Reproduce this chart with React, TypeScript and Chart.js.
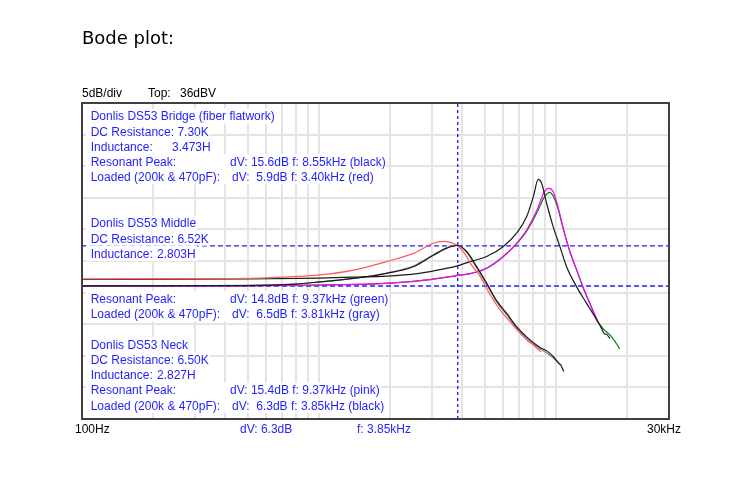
import { useEffect, useRef } from "react"
import { Chart, registerables } from "chart.js"

Chart.register(...registerables)

// frequency (Hz) / level (dBV) traces
const bridgeLoadedFreq = [100, 300, 600, 1010, 1400, 1930, 2500, 3040, 3360, 3680, 3930, 4200, 4340, 4780, 5270, 5800, 6300, 6850, 7540, 8100, 8650]
const bridgeLoadedDb = [8.15, 8.2, 8.35, 8.8, 9.55, 10.9, 12.2, 13.8, 14.1, 13.8, 13.1, 11.7, 10.7, 8.6, 5.7, 3.3, 1.7, 0.1, -1.5, -2.4, -3.4]

const bridgeFreq = [100, 500, 1010, 1400, 1930, 2600, 3200, 3800, 4340, 5100, 6000, 6820, 7520, 8030, 8420, 8700, 9140, 9740, 10390, 11090, 12230, 13470, 14850, 15600, 16000, 16360, 16900]
const bridgeDb = [8.1, 8.15, 8.3, 8.45, 8.6, 9.0, 9.6, 10.2, 10.9, 11.7, 13.3, 15.4, 18.0, 21.2, 23.9, 23.3, 20.1, 16.4, 13.3, 10.1, 6.9, 4.3, 1.7, 0.3, -0.5, -0.6, -1.3]

const neckLoadedFreq = [100, 500, 800, 1010, 1400, 1930, 2500, 3040, 3450, 3850, 4200, 4630, 5100, 5600, 6200, 6820, 7520, 8500, 9200, 9740, 10300, 10500, 10650, 10800]
const neckLoadedDb = [7.05, 7.1, 7.35, 7.7, 8.25, 9.05, 10.1, 11.9, 13.0, 13.45, 12.5, 10.1, 7.5, 4.8, 2.7, 0.6, -1.0, -2.6, -3.3, -4.1, -5.2, -5.5, -6.0, -6.5]

const middleLoadedFreq = [100, 500, 800, 1010, 1400, 1930, 2500, 3040, 3450, 3810, 4200, 4630, 5100, 5600, 6200, 6820, 7520, 8500, 9500, 10500]
const middleLoadedDb = [7.05, 7.1, 7.35, 7.7, 8.25, 9.1, 10.2, 12.0, 13.1, 13.55, 12.4, 9.9, 7.3, 4.6, 2.5, 0.4, -1.2, -2.8, -4.0, -5.5]

const neckFreq = [100, 500, 1000, 2000, 3000, 3800, 4340, 5100, 6000, 6820, 7520, 8330, 8870, 9300, 9740, 10200, 10700, 11400, 12230, 13000, 13900, 14850, 15100]
const neckDb = [7.05, 7.05, 7.2, 7.5, 8.1, 8.7, 9.0, 9.85, 11.7, 13.8, 15.9, 19.1, 21.7, 22.5, 22.0, 19.6, 16.4, 12.75, 9.6, 6.9, 4.3, 1.9, 1.3]

const middleFreq = [100, 1000, 2000, 3000, 3800, 4340, 5100, 6000, 6820, 7520, 8330, 8870, 9370, 9740, 10200, 10700, 11400, 12230, 13000, 13900, 14850, 15800, 16900, 17800, 18600]
const middleDb = [7.05, 7.2, 7.5, 8.1, 8.7, 9.0, 9.85, 11.7, 13.7, 15.7, 18.7, 20.9, 21.85, 21.3, 19.3, 16.3, 12.7, 9.55, 6.9, 4.3, 1.7, 0.3, -0.7, -1.8, -2.9]

// cursor readout
const cursorFreq = 3850
const cursorLowDb = 7.05
const cursorHighDb = 13.4

const xGridTicks = [100, 200, 300, 400, 500, 600, 700, 800, 900, 1000, 2000, 3000, 4000, 5000, 6000, 7000, 8000, 9000, 10000, 20000, 30000]
const yGridTicks = [-14, -9, -4, 1, 6, 11, 16, 21, 26, 31, 36]

const bridgeText = [
  ["Donlis DS53 Bridge (fiber flatwork)"],
  ["DC Resistance: 7.30K"],
  ["Inductance:", "3.473H"],
  ["Resonant Peak:", "dV: 15.6dB f: 8.55kHz (black)"],
  ["Loaded (200k & 470pF):", "dV:  5.9dB f: 3.40kHz (red)"],
]
const middleText = [
  ["Donlis DS53 Middle"],
  ["DC Resistance: 6.52K"],
  ["Inductance:", "2.803H"],
]
const middlePeakText = [
  ["Resonant Peak:", "dV: 14.8dB f: 9.37kHz (green)"],
  ["Loaded (200k & 470pF):", "dV:  6.5dB f: 3.81kHz (gray)"],
]
const neckText = [
  ["Donlis DS53 Neck"],
  ["DC Resistance: 6.50K"],
  ["Inductance:", "2.827H"],
  ["Resonant Peak:", "dV: 15.4dB f: 9.37kHz (pink)"],
  ["Loaded (200k & 470pF):", "dV:  6.3dB f: 3.85kHz (black)"],
]

const BLUE = "#1f1fff"
const FONT = '12px "Liberation Sans"'

const pts = (fs: number[], ds: number[]) => fs.map((x, i) => ({ x, y: ds[i] }))

function trace(label: string, fs: number[], ds: number[], color: string) {
  return {
    label,
    data: pts(fs, ds),
    borderColor: color,
    borderWidth: 1.2,
    pointRadius: 0,
    cubicInterpolationMode: "monotone",
    fill: false,
  }
}

function cursor(data: { x: number; y: number }[], dash: number[]) {
  return {
    label: "cursor",
    data,
    borderColor: BLUE,
    borderWidth: 1.4,
    borderDash: dash,
    pointRadius: 0,
    tension: 0,
    fill: false,
  }
}

const overlay = {
  id: "overlay",
  afterDatasetsDraw(chart: any) {
    const { ctx, chartArea: a } = chart
    ctx.save()
    ctx.strokeStyle = "#404040"
    ctx.lineWidth = 2
    ctx.strokeRect(a.left, a.top, a.right - a.left, a.bottom - a.top)

    ctx.fillStyle = "#000"
    ctx.font = '18px "DejaVu Sans"'
    ctx.textBaseline = "alphabetic"
    ctx.fillText("Bode plot:", 82, 44)

    ctx.font = FONT
    ctx.textBaseline = "middle"
    ctx.fillText("5dB/div", 82, 94)
    ctx.fillText("Top:", 148, 94)
    ctx.fillText("36dBV", 180, 94)
    ctx.fillText("100Hz", 75, 430)
    ctx.fillText("30kHz", 647, 430)
    ctx.fillStyle = BLUE
    ctx.fillText("dV: 6.3dB", 240, 430)
    ctx.fillText("f: 3.85kHz", 357, 430)

    // text rows sit on opaque white cells, like the original readout
    const block = (rows: string[][], y0: number, indX: number) => {
      rows.forEach((r, i) => {
        const y = y0 + i * 15.2
        const xs = [90.7]
        if (r.length > 1) xs.push(r[0].startsWith("Inductance") ? indX : r[0].startsWith("Loaded") ? 232 : 230)
        let end = 0
        r.forEach((t, j) => (end = Math.max(end, xs[j] + ctx.measureText(t).width)))
        ctx.fillStyle = "#fff"
        ctx.fillRect(86, y - 8.5, end - 86 + 1, 15)
        ctx.fillStyle = BLUE
        r.forEach((t, j) => ctx.fillText(t, xs[j], y))
      })
    }
    block(bridgeText, 117, 172)
    block(middleText, 224, 157)
    block(middlePeakText, 299.5, 157)
    block(neckText, 345.5, 157)
    ctx.restore()
  },
}

export default function App() {
  const canvasRef = useRef<HTMLCanvasElement>(null)

  useEffect(() => {
    document.body.style.margin = "0"
    const canvas = canvasRef.current
    if (!canvas) return

    const chart = new Chart(canvas, {
      type: "line",
      data: {
        datasets: [
          trace("Neck loaded", neckLoadedFreq, neckLoadedDb, "#1a1a1a"),
          trace("Bridge loaded", bridgeLoadedFreq, bridgeLoadedDb, "#ff5a5a"),
          trace("Bridge", bridgeFreq, bridgeDb, "#1a1a1a"),
          trace("Neck", neckFreq, neckDb, "#ff00ff"),
          trace("Middle", middleFreq, middleDb, "#008000"),
          trace("Middle loaded", middleLoadedFreq, middleLoadedDb, "#808080"),
          cursor([{ x: cursorFreq, y: -14 }, { x: cursorFreq, y: 36 }], [3, 3]),
          cursor([{ x: 100, y: cursorHighDb }, { x: 30000, y: cursorHighDb }], [5, 3]),
          cursor([{ x: 100, y: cursorLowDb }, { x: 30000, y: cursorLowDb }], [5, 3]),
        ] as any,
      },
      options: {
        responsive: false,
        animation: false,
        layout: { padding: { left: 82, top: 103, right: 76, bottom: 85 } },
        plugins: { legend: { display: false }, tooltip: { enabled: false } },
        scales: {
          x: {
            type: "logarithmic",
            min: 100,
            max: 30000,
            afterBuildTicks: (s: any) => {
              s.ticks = xGridTicks.map((value) => ({ value }))
            },
            ticks: { display: false },
            grid: { color: "#e4e4e4", lineWidth: 2, drawTicks: false },
            border: { display: false },
          },
          y: {
            type: "linear",
            min: -14,
            max: 36,
            afterBuildTicks: (s: any) => {
              s.ticks = yGridTicks.map((value) => ({ value }))
            },
            ticks: { display: false },
            grid: { color: "#e4e4e4", lineWidth: 2, drawTicks: false },
            border: { display: false },
          },
        },
      },
      plugins: [overlay],
    })

    return () => chart.destroy()
  }, [])

  return (
    <div style={{ width: 745, height: 504 }}>
      <canvas ref={canvasRef} width={745} height={504} />
    </div>
  )
}
